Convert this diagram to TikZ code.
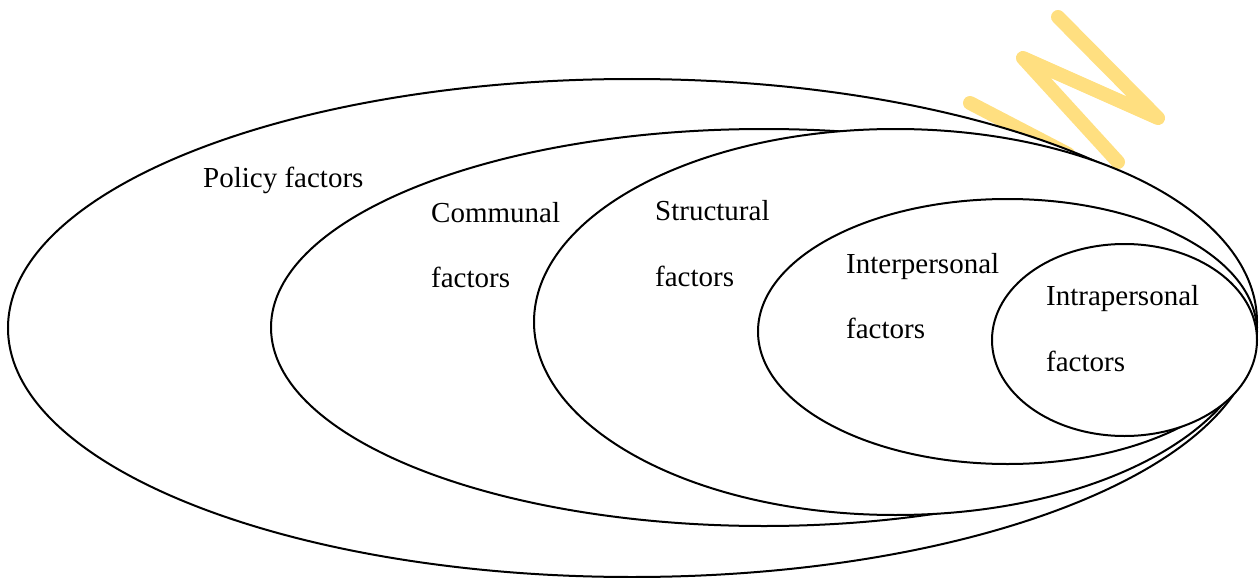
\documentclass[tikz,border=0pt]{standalone}
\usepackage{fontspec}
\setmainfont{Liberation Serif}
\definecolor{wmyellow}{HTML}{FFDF80}
\tikzset{
  ring/.style={draw=black, line width=2pt, fill=white},
  lbl/.style={anchor=base west, inner sep=0pt, font=\fontsize{29}{35}\selectfont},
  wm/.style={draw=wmyellow, line width=14pt, line cap=round, line join=round}
}
\begin{document}
\begin{tikzpicture}[x=1pt,y=-1pt]
\useasboundingbox (0,0) rectangle (1259,578);
\clip (0,0) rectangle (1259,578);
% watermark strokes (behind the rings)
\draw[wm] (970,103) -- (1068,154);
\draw[wm] (1118,162) -- (1023,58) -- (1158,118) -- (1058,17);
\draw[wm] (548,600) -- (556,585);
\draw[wm] (585,600) -- (588,586);
% nested rings
\draw[ring] (632,328) ellipse [x radius=624, y radius=249];
\draw[ring] (764,327.5) ellipse [x radius=493, y radius=198.5];
\draw[ring] (895.5,322) ellipse [x radius=361.5, y radius=193];
\draw[ring] (1007.5,331.5) ellipse [x radius=249.5, y radius=132.5];
\draw[ring] (1124.5,340) ellipse [x radius=132.5, y radius=96];
% labels
\node[lbl] (policy) at (203,187) {Policy factors};
\node[lbl] (comm1) at (431,222) {Communal};
\node[lbl] (comm2) at (431,287) {factors};
\node[lbl] (struct1) at (655,220) {Structural};
\node[lbl] (struct2) at (655,286) {factors};
\node[lbl] (inter1) at (846,273) {Interpersonal};
\node[lbl] (inter2) at (846,338) {factors};
\node[lbl] (intra1) at (1046,305) {Intrapersonal};
\node[lbl] (intra2) at (1046,371) {factors};
\end{tikzpicture}
\end{document}
